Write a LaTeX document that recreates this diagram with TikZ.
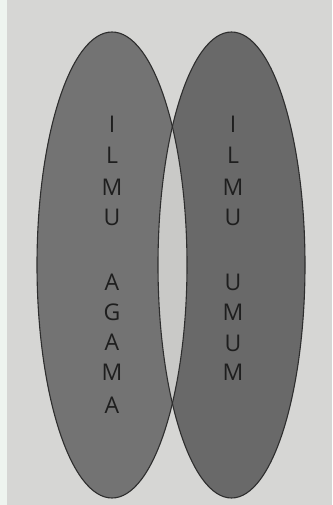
\documentclass[tikz,border=0pt]{standalone}
\usepackage{fontspec}
\setmainfont{Open Sans}
\definecolor{paper}{HTML}{D6D6D4}
\definecolor{strip}{HTML}{EEF4EF}
\definecolor{leftfill}{HTML}{737373}
\definecolor{rightfill}{HTML}{696969}
\definecolor{lensfill}{HTML}{C9C9C7}
\definecolor{inkline}{HTML}{2E2E2E}
\definecolor{letter}{HTML}{1E1E1E}
\tikzset{
  letterbox/.style={text=letter, font=\fontsize{23}{23}\selectfont, inner sep=0pt, anchor=center},
  outline/.style={draw=inkline, line width=1.1pt}
}
\begin{document}
\begin{tikzpicture}[x=1pt,y=-1pt]
\useasboundingbox (0,0) rectangle (332,505);
\fill[paper] (0,0) rectangle (332,505);
\fill[strip] (0,0) rectangle (7,505);
% ellipses
\fill[leftfill] (112,265) ellipse [x radius=75, y radius=233];
\fill[rightfill] (231.5,265) ellipse [x radius=73.5, y radius=233];
\begin{scope}
  \clip (112,265) ellipse [x radius=75, y radius=233];
  \fill[lensfill] (231.5,265) ellipse [x radius=73.5, y radius=233];
\end{scope}
\draw[outline] (112,265) ellipse [x radius=75, y radius=233];
\draw[outline] (231.5,265) ellipse [x radius=73.5, y radius=233];
% left letters
\node[letterbox] (l1) at (112,124) {I};
\node[letterbox] (l2) at (112,155) {L};
\node[letterbox] (l3) at (112,187) {M};
\node[letterbox] (l4) at (112,217) {U};
\node[letterbox] (l5) at (112,282) {A};
\node[letterbox] (l6) at (112,312) {G};
\node[letterbox] (l7) at (112,342) {A};
\node[letterbox] (l8) at (112,372) {M};
\node[letterbox] (l9) at (112,405) {A};
% right letters
\node[letterbox] (r1) at (233,124) {I};
\node[letterbox] (r2) at (233,155) {L};
\node[letterbox] (r3) at (233,187) {M};
\node[letterbox] (r4) at (233,217) {U};
\node[letterbox] (r5) at (233,282) {U};
\node[letterbox] (r6) at (233,312) {M};
\node[letterbox] (r7) at (233,343) {U};
\node[letterbox] (r8) at (233,372) {M};
\end{tikzpicture}
\end{document}
